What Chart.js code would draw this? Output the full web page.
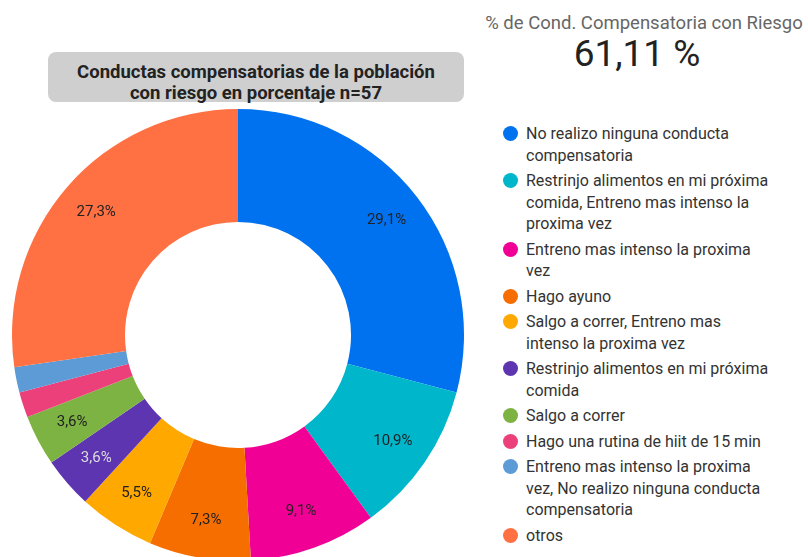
<!DOCTYPE html>
<html>
<head>
<meta charset="utf-8">
<script src="https://cdn.jsdelivr.net/npm/chart.js@4"></script>
<style>
  body { margin: 0; width: 808px; height: 557px; background: #fff; font-family: Roboto, sans-serif; position: relative; overflow: hidden; }
  #kpiTitle { position: absolute; left: 470px; width: 348px; top: 12px; text-align: center; font-size: 18.5px; color: #666; }
  #kpiValue { position: absolute; left: 470px; width: 334px; top: 32px; text-align: center; font-size: 37px; color: #222; }
  #titleBox { position: absolute; left: 48px; top: 52px; width: 416px; height: 50px; background: #cfcfcf; border-radius: 8px;
    font-weight: bold; font-size: 18.5px; color: #222; text-align: center; line-height: 21px; box-sizing: border-box; padding-top: 10px; }
  #chartBox { position: absolute; left: 12px; top: 109px; width: 452px; height: 452px; }
  #legend { position: absolute; left: 502px; top: 123px; width: 306px; list-style: none; margin: 0; padding: 0; }
  #legend li { position: relative; padding-left: 24px; font-size: 16px; line-height: 21.5px; color: #333; margin-bottom: 4px; }
  #legend li span { position: absolute; left: 1px; top: 3px; width: 15px; height: 15px; border-radius: 50%; }
</style>
</head>
<body>
<div id="kpiTitle">% de Cond. Compensatoria con Riesgo</div>
<div id="kpiValue">61,11 %</div>
<div id="chartBox"><canvas id="donut" width="452" height="452"></canvas></div>
<div id="titleBox">Conductas compensatorias de la población<br>con riesgo en porcentaje n=57</div>
<ul id="legend"></ul>
<script>
// categorias y valores (conteos, n=55 respuestas)
const categories = [
    'No realizo ninguna conducta compensatoria',
    'Restrinjo alimentos en mi próxima comida, Entreno mas intenso la proxima vez',
    'Entreno mas intenso la proxima vez',
    'Hago ayuno',
    'Salgo a correr, Entreno mas intenso la proxima vez',
    'Restrinjo alimentos en mi próxima comida',
    'Salgo a correr',
    'Hago una rutina de hiit de 15 min',
    'Entreno mas intenso la proxima vez, No realizo ninguna conducta compensatoria',
    'otros'
];
const legendLines = [
    ['No realizo ninguna conducta', 'compensatoria'],
    ['Restrinjo alimentos en mi próxima', 'comida, Entreno mas intenso la', 'proxima vez'],
    ['Entreno mas intenso la proxima', 'vez'],
    ['Hago ayuno'],
    ['Salgo a correr, Entreno mas', 'intenso la proxima vez'],
    ['Restrinjo alimentos en mi próxima', 'comida'],
    ['Salgo a correr'],
    ['Hago una rutina de hiit de 15 min'],
    ['Entreno mas intenso la proxima', 'vez, No realizo ninguna conducta', 'compensatoria'],
    ['otros']
];
const counts = [16, 6, 5, 4, 3, 2, 2, 1, 1, 15];
const colors = ['#0072f0', '#00b6cb', '#f10096', '#f66d00', '#ffa800', '#5e35b1', '#7cb342', '#ec407a', '#5c9bd6', '#ff7043'];
const labelColors = ['#222', '#222', '#222', '#222', '#222', '#ddd', '#222', '#222', '#222', '#222'];

const total = counts.reduce((a, b) => a + b, 0);

// leyenda HTML
const legendEl = document.getElementById('legend');
legendLines.forEach((lines, i) => {
    const li = document.createElement('li');
    li.innerHTML = `<span style="background:${colors[i]}"></span>${lines.join('<br>')}`;
    legendEl.appendChild(li);
});

// etiquetas de porcentaje sobre los segmentos
const sliceLabels = {
    id: 'sliceLabels',
    afterDatasetsDraw(chart) {
        const ctx = chart.ctx;
        const meta = chart.getDatasetMeta(0);
        ctx.save();
        ctx.font = '15px Roboto';
        ctx.textAlign = 'center';
        ctx.textBaseline = 'middle';
        meta.data.forEach((arc, i) => {
            const pct = counts[i] / total * 100;
            if (pct < 3) return;
            const p = arc.getProps(['x', 'y', 'startAngle', 'endAngle', 'innerRadius', 'outerRadius'], true);
            const a = (p.startAngle + p.endAngle) / 2;
            const r = p.innerRadius + (p.outerRadius - p.innerRadius) * 0.66;
            ctx.fillStyle = labelColors[i];
            ctx.fillText(pct.toFixed(1).replace('.', ',') + '%', p.x + Math.cos(a) * r, p.y + Math.sin(a) * r);
        });
        ctx.restore();
    }
};

new Chart(document.getElementById('donut'), {
    type: 'doughnut',
    data: {
        labels: categories,
        datasets: [{
            data: counts,
            backgroundColor: colors,
            borderWidth: 0
        }]
    },
    options: {
        responsive: false,
        animation: false,
        cutout: '50%',
        layout: { padding: 0 },
        plugins: { legend: { display: false }, tooltip: { enabled: false } }
    },
    plugins: [sliceLabels]
});
</script>
</body>
</html>
